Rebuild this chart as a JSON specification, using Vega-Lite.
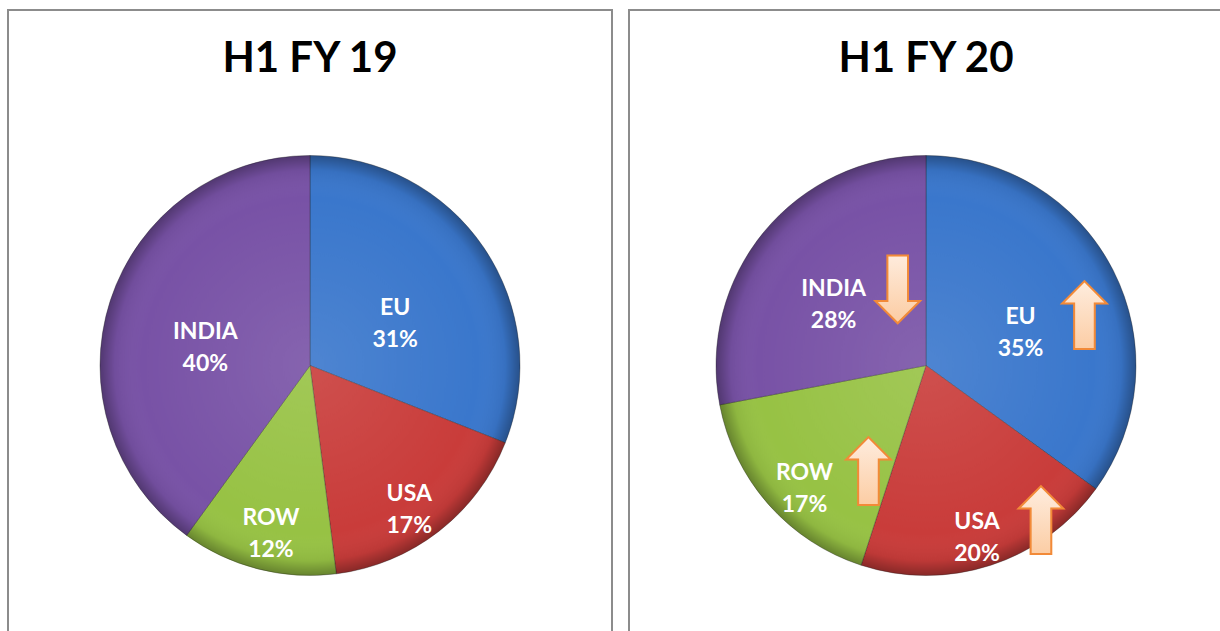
{
  "$schema": "https://vega.github.io/schema/vega-lite/v6.json",
  "background": "white",
  "padding": {"left": 7, "top": 9, "right": 0, "bottom": 0},
  "config": {
    "view": {"stroke": null},
    "title": {"font": "Lato", "fontSize": 42, "fontWeight": "bold", "color": "#000000", "anchor": "middle", "frame": "group", "baseline": "alphabetic", "offset": -72}
  },
  "data": {
    "values": [
      {"period": "H1 FY 19", "region": "EU", "share": 31},
      {"period": "H1 FY 19", "region": "USA", "share": 17},
      {"period": "H1 FY 19", "region": "ROW", "share": 12},
      {"period": "H1 FY 19", "region": "INDIA", "share": 40},
      {"period": "H1 FY 20", "region": "EU", "share": 35, "trend": "up"},
      {"period": "H1 FY 20", "region": "USA", "share": 20, "trend": "up"},
      {"period": "H1 FY 20", "region": "ROW", "share": 17, "trend": "up"},
      {"period": "H1 FY 20", "region": "INDIA", "share": 28, "trend": "down"}
    ]
  },
  "spacing": 15,
  "hconcat": [
    {
      "width": 604,
      "height": 711,
      "title": {"text": "H1 FY 19"},
      "transform": [
        {"filter": "datum.period === 'H1 FY 19'"},
        {"calculate": "indexof(['EU','USA','ROW','INDIA'], datum.region)", "as": "slice_order"},
        {"calculate": "[datum.region, datum.share + '%']", "as": "label"}
      ],
      "layer": [
        {
          "data": {"values": [{}]},
          "mark": {"type": "rect", "fill": null, "stroke": "#8c8c8c", "strokeWidth": 2},
          "encoding": {"x": {"value": 0}, "x2": {"value": "width"}, "y": {"value": 0}, "y2": {"value": "height"}}
        },
        {
          "mark": {"type": "arc", "outerRadius": 210, "stroke": "#222222", "strokeWidth": 1, "strokeOpacity": 0.35},
          "encoding": {
            "theta": {"field": "share", "type": "quantitative", "stack": true, "scale": {"domain": [0, 100]}},
            "order": {"field": "slice_order", "type": "quantitative"},
            "color": {"field": "region", "type": "nominal", "legend": null,
              "scale": {"domain": ["EU", "USA", "ROW", "INDIA"], "range": ["#3a77cc", "#c93c3a", "#97c244", "#7852a6"]}}
          }
        },
        {
          "data": {"values": [{}]},
          "mark": {"type": "arc", "theta": 0, "theta2": 6.2832, "outerRadius": 210,
            "fill": {"gradient": "radial", "x1": 0.5, "y1": 0.5, "x2": 0.5, "y2": 0.5, "r1": 0, "r2": 0.5,
              "stops": [
                {"offset": 0, "color": "rgba(255,255,255,0.10)"},
                {"offset": 0.8, "color": "rgba(255,255,255,0)"},
                {"offset": 0.93, "color": "rgba(0,0,0,0.06)"},
                {"offset": 1, "color": "rgba(0,0,0,0.32)"}
              ]}},
          "encoding": {}
        },
        {
          "mark": {"type": "text", "font": "Lato", "fontSize": 23, "fontWeight": "bold", "fill": "white", "lineHeight": 32, "align": "center", "baseline": "middle"},
          "encoding": {
            "theta": {"field": "share", "type": "quantitative", "stack": true, "scale": {"domain": [0, 100]}},
            "order": {"field": "slice_order", "type": "quantitative"},
            "radius": {"field": "share", "type": "quantitative", "scale": {"type": "linear", "domain": [12, 20, 31, 40], "range": [157, 165, 103, 110], "zero": false}},
            "text": {"field": "label"}
          }
        }
      ]
    },
    {
      "width": 594,
      "height": 711,
      "title": {"text": "H1 FY 20"},
      "transform": [
        {"filter": "datum.period === 'H1 FY 20'"},
        {"calculate": "indexof(['EU','USA','ROW','INDIA'], datum.region)", "as": "slice_order"},
        {"calculate": "[datum.region, datum.share + '%']", "as": "label"},
        {"calculate": "datum.trend === 'up' ? '⬆' : '⬇'", "as": "arrow"}
      ],
      "layer": [
        {
          "data": {"values": [{}]},
          "mark": {"type": "rect", "fill": null, "stroke": "#8c8c8c", "strokeWidth": 2},
          "encoding": {"x": {"value": 0}, "x2": {"value": "width"}, "y": {"value": 0}, "y2": {"value": "height"}}
        },
        {
          "mark": {"type": "arc", "outerRadius": 210, "stroke": "#222222", "strokeWidth": 1, "strokeOpacity": 0.35},
          "encoding": {
            "theta": {"field": "share", "type": "quantitative", "stack": true, "scale": {"domain": [0, 100]}},
            "order": {"field": "slice_order", "type": "quantitative"},
            "color": {"field": "region", "type": "nominal", "legend": null,
              "scale": {"domain": ["EU", "USA", "ROW", "INDIA"], "range": ["#3a77cc", "#c93c3a", "#97c244", "#7852a6"]}}
          }
        },
        {
          "data": {"values": [{}]},
          "mark": {"type": "arc", "theta": 0, "theta2": 6.2832, "outerRadius": 210,
            "fill": {"gradient": "radial", "x1": 0.5, "y1": 0.5, "x2": 0.5, "y2": 0.5, "r1": 0, "r2": 0.5,
              "stops": [
                {"offset": 0, "color": "rgba(255,255,255,0.10)"},
                {"offset": 0.8, "color": "rgba(255,255,255,0)"},
                {"offset": 0.93, "color": "rgba(0,0,0,0.06)"},
                {"offset": 1, "color": "rgba(0,0,0,0.32)"}
              ]}},
          "encoding": {}
        },
        {
          "mark": {"type": "text", "font": "Lato", "fontSize": 23, "fontWeight": "bold", "fill": "white", "lineHeight": 32, "align": "center", "baseline": "middle"},
          "encoding": {
            "theta": {"field": "share", "type": "quantitative", "stack": true, "scale": {"domain": [0, 100]}},
            "order": {"field": "slice_order", "type": "quantitative"},
            "radius": {"field": "share", "type": "quantitative", "scale": {"type": "linear", "domain": [12, 20, 31, 40], "range": [157, 165, 103, 110], "zero": false}},
            "text": {"field": "label"}
          }
        },
        {
          "mark": {"type": "text", "font": "DejaVu Sans", "fontSize": 90, "dx": 64, "dy": 5, "align": "center", "baseline": "middle",
            "fill": {"gradient": "linear", "x1": 0, "y1": 0, "x2": 0, "y2": 1,
              "stops": [{"offset": 0, "color": "#fff4ec"}, {"offset": 1, "color": "#fbc392"}]},
            "stroke": "#f28a38", "strokeWidth": 2},
          "encoding": {
            "theta": {"field": "share", "type": "quantitative", "stack": true, "scale": {"domain": [0, 100]}},
            "order": {"field": "slice_order", "type": "quantitative"},
            "radius": {"field": "share", "type": "quantitative", "scale": {"type": "linear", "domain": [12, 20, 31, 40], "range": [157, 165, 103, 110], "zero": false}},
            "text": {"field": "arrow"}
          }
        }
      ]
    }
  ]
}
